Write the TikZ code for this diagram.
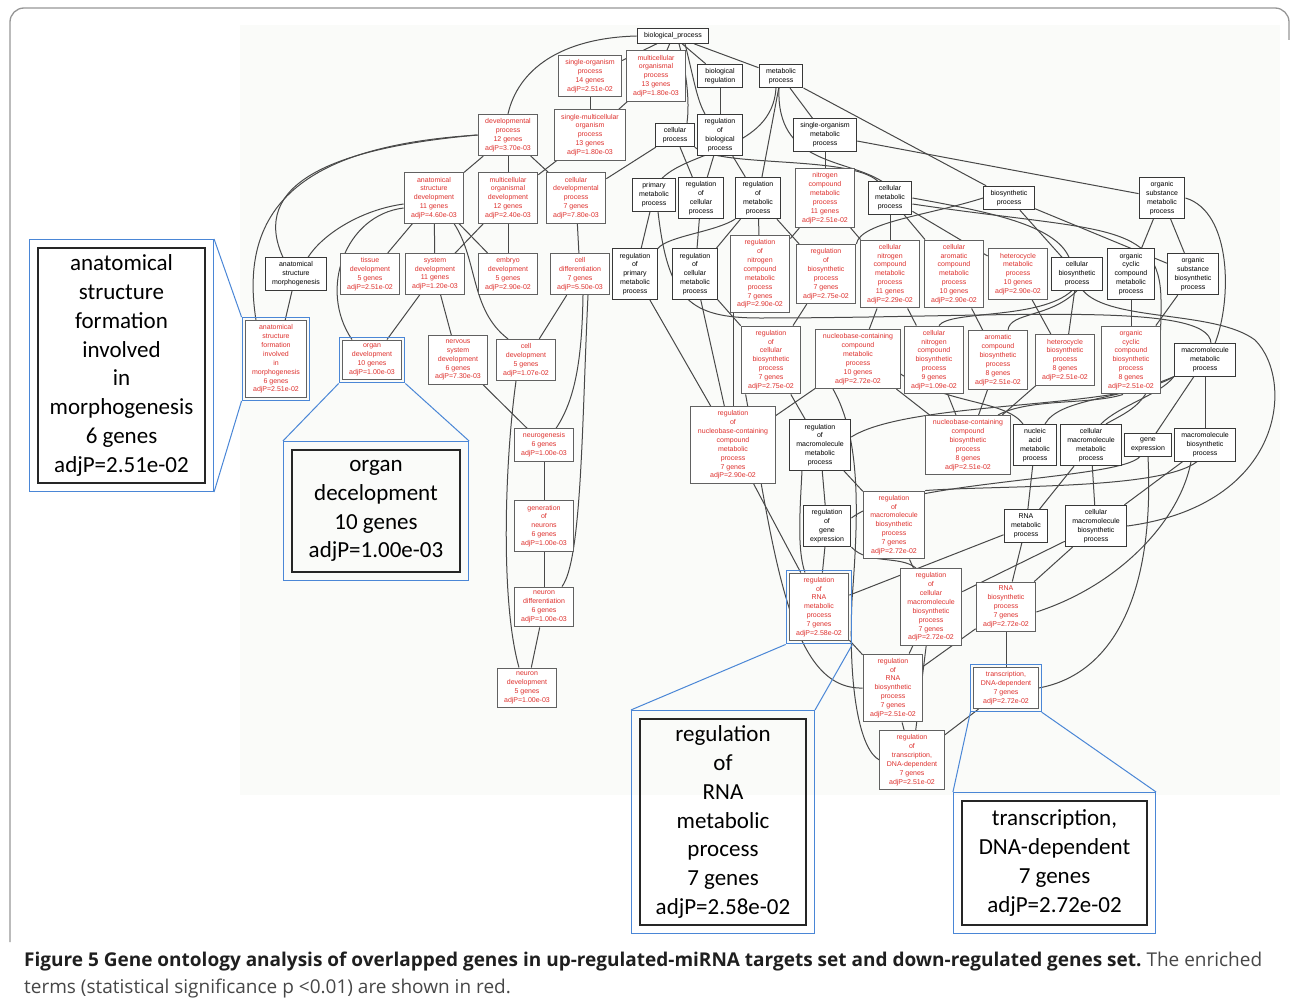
\documentclass[tikz,border=0pt]{standalone}
\usepackage{fontspec}
\setmainfont{Carlito}
\newfontfamily\gofont{Liberation Sans}
\newfontfamily\capfont{Open Sans}
\usetikzlibrary{fit,backgrounds}

\definecolor{goRed}{RGB}{222,48,45}
\definecolor{hlBlue}{RGB}{74,134,214}
\definecolor{edgeGray}{RGB}{72,72,72}
\definecolor{frameGray}{RGB}{150,150,150}
\definecolor{plotTone}{RGB}{250,251,249}

\tikzset{
  term/.style={draw=black!78, line width=1pt, fill=white, align=center,
    inner xsep=7pt, inner ysep=4pt, font=\gofont\fontsize{7}{8.9}\selectfont},
  hit/.style={term, text=goRed, draw=black!62},
  link/.style={draw=edgeGray, line width=1pt},
  hl/.style={draw=hlBlue, line width=1pt, inner sep=2.5pt},
  callout/.style={draw=black!85, line width=1.1pt, align=center, inner sep=0pt,
    font=\fontsize{23}{28.8}\selectfont},
}

\begin{document}
\begin{tikzpicture}[x=1pt,y=-1pt]
  \useasboundingbox (0,0) rectangle (1290,1006);

  % terms, row by row
  \node[term] (bp) at (673,36) {biological\_process};

  \node[hit]  (sop)   at (590,76)  {single-organism\\process\\14 genes\\adjP=2.51e-02};
  \node[hit]  (mop)   at (656,76)  {multicellular\\organismal\\process\\13 genes\\adjP=1.80e-03};
  \node[term] (breg)  at (720,76)  {biological\\regulation};
  \node[term] (metab) at (781,76)  {metabolic\\process};

  \node[hit]  (devp)  at (508,135) {developmental\\process\\12 genes\\adjP=3.70e-03};
  \node[hit]  (smop)  at (590,135) {single-multicellular\\organism\\process\\13 genes\\adjP=1.80e-03};
  \node[term] (cellp) at (675,135) {cellular\\process};
  \node[term] (rbp)   at (720,135) {regulation\\of\\biological\\process};
  \node[term] (smet)  at (825,135) {single-organism\\metabolic\\process};

  \node[hit]  (asd)   at (434,198) {anatomical\\structure\\development\\11 genes\\adjP=4.60e-03};
  \node[hit]  (mod)   at (508,198) {multicellular\\organismal\\development\\12 genes\\adjP=2.40e-03};
  \node[hit]  (cdp)   at (576,198) {cellular\\developmental\\process\\7 genes\\adjP=7.80e-03};
  \node[term] (pmet)  at (654,195) {primary\\metabolic\\process};
  \node[term] (rcp)   at (701,198) {regulation\\of\\cellular\\process};
  \node[term] (rmp)   at (758,198) {regulation\\of\\metabolic\\process};
  \node[hit]  (ncmet) at (825,198) {nitrogen\\compound\\metabolic\\process\\11 genes\\adjP=2.51e-02};
  \node[term] (cmet)  at (890,198) {cellular\\metabolic\\process};
  \node[term] (bsyn)  at (1009,198) {biosynthetic\\process};
  \node[term] (osmet) at (1162,198) {organic\\substance\\metabolic\\process};

  \node[term] (asm)    at (296,274)  {anatomical\\structure\\morphogenesis};
  \node[hit]  (tdev)   at (370,274)  {tissue\\development\\5 genes\\adjP=2.51e-02};
  \node[hit]  (sdev)   at (435,274)  {system\\development\\11 genes\\adjP=1.20e-03};
  \node[hit]  (edev)   at (508,274)  {embryo\\development\\5 genes\\adjP=2.90e-02};
  \node[hit]  (cdiff)  at (580,274)  {cell\\differentiation\\7 genes\\adjP=5.50e-03};
  \node[term] (rpmet)  at (635,274)  {regulation\\of\\primary\\metabolic\\process};
  \node[term] (rcmet)  at (695,274)  {regulation\\of\\cellular\\metabolic\\process};
  \node[hit]  (rncmet) at (760,274)  {regulation\\of\\nitrogen\\compound\\metabolic\\process\\7 genes\\adjP=2.90e-02};
  \node[hit]  (rbio)   at (826,274)  {regulation\\of\\biosynthetic\\process\\7 genes\\adjP=2.75e-02};
  \node[hit]  (cnmet)  at (890,274)  {cellular\\nitrogen\\compound\\metabolic\\process\\11 genes\\adjP=2.29e-02};
  \node[hit]  (camet)  at (954,274)  {cellular\\aromatic\\compound\\metabolic\\process\\10 genes\\adjP=2.90e-02};
  \node[hit]  (hmet)   at (1018,274) {heterocycle\\metabolic\\process\\10 genes\\adjP=2.90e-02};
  \node[term] (cbio)   at (1077,274) {cellular\\biosynthetic\\process};
  \node[term] (ocmet)  at (1131,274) {organic\\cyclic\\compound\\metabolic\\process};
  \node[term] (osbio)  at (1193,274) {organic\\substance\\biosynthetic\\process};

  \node[hit]  (asf)    at (276,359)  {anatomical\\structure\\formation\\involved\\in\\morphogenesis\\6 genes\\adjP=2.51e-02};
  \node[hit]  (odev)   at (372,360)  {organ\\development\\10 genes\\adjP=1.00e-03};
  \node[hit]  (nsdev)  at (458,360)  {nervous\\system\\development\\6 genes\\adjP=7.30e-03};
  \node[hit]  (cdev)   at (526,360)  {cell\\development\\5 genes\\adjP=1.07e-02};
  \node[hit]  (rcbio)  at (771,360)  {regulation\\of\\cellular\\biosynthetic\\process\\7 genes\\adjP=2.75e-02};
  \node[hit]  (nucmet) at (858,359)  {nucleobase-containing\\compound\\metabolic\\process\\10 genes\\adjP=2.72e-02};
  \node[hit]  (cnbio)  at (934,360)  {cellular\\nitrogen\\compound\\biosynthetic\\process\\9 genes\\adjP=1.09e-02};
  \node[hit]  (acbio)  at (998,360)  {aromatic\\compound\\biosynthetic\\process\\8 genes\\adjP=2.51e-02};
  \node[hit]  (hbio)   at (1065,360) {heterocycle\\biosynthetic\\process\\8 genes\\adjP=2.51e-02};
  \node[hit]  (ocbio)  at (1131,360) {organic\\cyclic\\compound\\biosynthetic\\process\\8 genes\\adjP=2.51e-02};
  \node[term] (mmet)   at (1205,360) {macromolecule\\metabolic\\process};

  \node[hit]  (ngen)    at (544,445)  {neurogenesis\\6 genes\\adjP=1.00e-03};
  \node[hit]  (rnucmet) at (733,445)  {regulation\\of\\nucleobase-containing\\compound\\metabolic\\process\\7 genes\\adjP=2.90e-02};
  \node[term] (rmmet)   at (820,445)  {regulation\\of\\macromolecule\\metabolic\\process};
  \node[hit]  (nucbio)  at (968,445)  {nucleobase-containing\\compound\\biosynthetic\\process\\8 genes\\adjP=2.51e-02};
  \node[term] (namet)   at (1035,445) {nucleic\\acid\\metabolic\\process};
  \node[term] (cmmet)   at (1091,445) {cellular\\macromolecule\\metabolic\\process};
  \node[term] (gexp)    at (1148,445) {gene\\expression};
  \node[term] (mbio)    at (1205,445) {macromolecule\\biosynthetic\\process};

  \node[hit]  (genn)   at (544,526)  {generation\\of\\neurons\\6 genes\\adjP=1.00e-03};
  \node[term] (rgexp)  at (827,526)  {regulation\\of\\gene\\expression};
  \node[hit]  (rmbio)  at (894,525)  {regulation\\of\\macromolecule\\biosynthetic\\process\\7 genes\\adjP=2.72e-02};
  \node[term] (rnamet) at (1026,526) {RNA\\metabolic\\process};
  \node[term] (cmbio)  at (1096,526) {cellular\\macromolecule\\biosynthetic\\process};

  \node[hit]  (ndiff)   at (544,607)  {neuron\\differentiation\\6 genes\\adjP=1.00e-03};
  \node[hit]  (rrnamet) at (819,607)  {regulation\\of\\RNA\\metabolic\\process\\7 genes\\adjP=2.58e-02};
  \node[hit]  (rcmbio)  at (931,607)  {regulation\\of\\cellular\\macromolecule\\biosynthetic\\process\\7 genes\\adjP=2.72e-02};
  \node[hit]  (rnabio)  at (1006,607) {RNA\\biosynthetic\\process\\7 genes\\adjP=2.72e-02};

  \node[hit]  (ndev)    at (527,688)  {neuron\\development\\5 genes\\adjP=1.00e-03};
  \node[hit]  (rrnabio) at (893,688)  {regulation\\of\\RNA\\biosynthetic\\process\\7 genes\\adjP=2.51e-02};
  \node[hit]  (trans)   at (1006,688) {transcription,\\DNA-dependent\\7 genes\\adjP=2.72e-02};

  \node[hit]  (rtrans)  at (912,760)  {regulation\\of\\transcription,\\DNA-dependent\\7 genes\\adjP=2.51e-02};

  \begin{scope}[on background layer]
    \fill[plotTone] (240,25) rectangle (1280,795);
    \foreach \a/\b in {bp/sop, bp/mop, bp/breg, bp/metab, sop/smop, mop/smop,
        devp/asd, devp/mod, devp/cdp, smop/mod, cellp/cdp, cellp/rcp, breg/rbp,
        rbp/rcp, rbp/rmp, metab/smet, metab/bsyn, metab/rmp, smet/ncmet, smet/osmet,
        asd/tdev, asd/sdev, asd/edev, mod/sdev, mod/edev, cdp/cdiff, pmet/rpmet,
        rcp/rcmet, rmp/rcmet, rmp/rncmet, rmp/rbio, ncmet/rncmet, ncmet/cnmet,
        cmet/cnmet, cmet/camet, cmet/hmet, bsyn/cbio, bsyn/osbio, osmet/ocmet,
        osmet/osbio, asm/asf, sdev/odev, sdev/nsdev, cdiff/cdev, nsdev/ngen,
        ngen/genn, genn/ndiff, ndiff/ndev, rpmet/rnucmet, rcmet/rnucmet,
        rcmet/rcbio, rbio/rcbio, cnmet/nucmet, cnmet/cnbio, camet/acbio,
        hmet/hbio, cbio/hbio, ocmet/ocbio, osbio/ocbio, nucmet/nucbio,
        cnbio/nucbio, acbio/nucbio, hbio/nucbio, nucmet/rnucmet, mmet/gexp,
        mmet/mbio, mbio/cmbio, cmmet/cmbio, namet/rnamet, cmmet/rnamet,
        cmbio/rnabio, cmbio/rcmbio, rnamet/rnabio, rnamet/rrnamet, rmmet/rgexp,
        rmmet/rmbio, rcbio/rmmet, rnucmet/rrnamet, rgexp/rrnamet, rmbio/rcmbio,
        rrnamet/rrnabio, rcmbio/rrnabio, rnabio/rrnabio, rnabio/trans,
        rrnabio/rtrans, rcmbio/rtrans, trans/rtrans}
      \draw[link] (\a) -- (\b);

    \draw[link] (bp.west) .. controls (560,38) and (518,70) .. (devp.north);
    \draw[link] ([xshift=6pt]bp.south) .. controls (686,70) and (690,100) .. ([xshift=12pt]cellp.north);
    \draw[link] ([xshift=12pt]bp.south) .. controls (694,80) and (697,100) .. ([xshift=-15pt]rbp.north);
    \draw[link] (devp.west) .. controls (330,148) and (250,185) .. ([xshift=-13pt]asm.north);
    \draw[link] (devp.west) .. controls (320,145) and (236,195) .. ([xshift=-20pt]asf.north);
    \draw[link] ([yshift=-6pt]asd.west) .. controls (360,210) and (322,235) .. ([xshift=12pt]asm.north);
    \draw[link] ([yshift=-10pt]asd.west) .. controls (345,215) and (318,290) .. ([xshift=-20pt]odev.north);
    \draw[link] ([xshift=20pt]asd.south) .. controls (478,260) and (470,310) .. ([xshift=-18pt]cdev.north);
    \draw[link] (cellp.south east) .. controls (720,168) and (850,155) .. ([xshift=-12pt]cmet.north);
    \draw[link] ([xshift=-5pt]metab.south) .. controls (772,150) and (690,150) .. ([xshift=8pt]pmet.north);
    \draw[link] ([xshift=-2pt]metab.south) .. controls (776,165) and (845,158) .. ([xshift=-8pt]cmet.north);
    \draw[link] ([xshift=4pt]pmet.south) .. controls (668,300) and (690,318) .. (760,318)
      .. controls (1000,318) and (1210,300) .. ([xshift=6pt]mmet.north);
    \draw[link] (rmp.south west) .. controls (715,232) and (668,236) .. (rpmet.north east);
    \draw[link] (cmet.east) .. controls (990,212) and (1055,225) .. ([xshift=-8pt]cbio.north);
    \draw[link] ([yshift=-6pt]cmet.east) .. controls (1100,232) and (1160,220) .. (1161,300)
      .. controls (1162,400) and (1140,405) .. ([xshift=15pt]cmmet.north);
    \draw[link] (bsyn.west) .. controls (930,215) and (860,222) .. (rbio.north east);
    \draw[link] (osmet.east) .. controls (1232,212) and (1232,300) .. ([xshift=10pt]mmet.north);
    \draw[link] ([xshift=-27pt]rncmet.south) -- (rnucmet.north);
    \draw[link] ([xshift=3pt]cdiff.south) .. controls (582,360) and (575,400) .. ([xshift=12pt]ngen.north);
    \draw[link] ([xshift=8pt]cdiff.south) .. controls (582,420) and (582,560) .. ([xshift=18pt]ndiff.north);
    \draw[link] ([xshift=-10pt]cdev.south) .. controls (505,460) and (500,600) .. ([xshift=-8pt]ndev.north);
    \draw[link] ([xshift=5pt]rcbio.south west) .. controls (775,560) and (790,690) .. (rrnabio.west);
    \draw[link] ([xshift=-5pt]cbio.south) .. controls (1040,320) and (950,310) .. ([xshift=5pt]cnbio.north);
    \draw[link] (cbio.south) .. controls (1050,318) and (1010,312) .. ([xshift=10pt]acbio.north);
    \draw[link] ([xshift=6pt]cbio.south) .. controls (1110,322) and (1215,310) .. (1255,340)
      .. controls (1295,380) and (1285,505) .. (cmbio.east);
    \draw[link] ([yshift=-15pt]nucmet.east) .. controls (950,405) and (1005,400) .. ([xshift=-12pt]namet.north);
    \draw[link] ([xshift=-8pt]ocbio.south) .. controls (1090,405) and (1030,398) .. ([xshift=30pt]nucbio.north);
    \draw[link] ([yshift=8pt]rmmet.east) .. controls (910,400) and (1120,410) .. (mmet.south west);
    \draw[link] (mmet.south west) .. controls (1120,400) and (1060,398) .. ([xshift=10pt]namet.north);
    \draw[link] (mmet.south west) .. controls (1160,395) and (1120,405) .. ([xshift=10pt]cmmet.north);
    \draw[link] ([xshift=-8pt]mbio.south) .. controls (1160,490) and (1000,485) .. (rmbio.north east);
    \draw[link] ([xshift=-8pt]gexp.south) .. controls (1120,480) and (900,480) .. ([yshift=8pt]rgexp.east);
    \draw[link] (gexp.south) .. controls (1155,600) and (1110,675) .. (trans.east);
    \draw[link] ([xshift=-14pt]mbio.south) .. controls (1180,520) and (1120,585) .. ([yshift=-5pt]rnabio.east);
    \draw[link] ([xshift=-25pt]nucmet.south) .. controls (862,440) and (858,520) .. (852,600)
      .. controls (848,690) and (860,750) .. (rtrans.west);
    \draw[link] ([xshift=-18pt]rmmet.south) .. controls (800,510) and (797,550) .. ([xshift=-14pt]rrnamet.north);
    \draw[link] (rgexp.south east) .. controls (868,565) and (900,555) .. ([xshift=-15pt]rcmbio.north);
  \end{scope}

  % highlighted terms and their call-outs
  \node[hl, fit=(asf)] (asfH) {};
  \node[hl, fit=(odev)] (odevH) {};
  \node[hl, fit=(rrnamet)] (rrnametH) {};
  \node[hl, fit=(trans)] (transH) {};

  \node[callout, minimum width=167pt, minimum height=235pt] (asfC) at (121.5,365.5)
    {anatomical\\structure\\formation\\involved\\in\\morphogenesis\\6 genes\\adjP=2.51e-02};
  \node[callout, minimum width=168pt, minimum height=122pt] (odevC) at (376,511)
    {organ\\decelopment\\10 genes\\adjP=1.00e-03};
  \node[callout, minimum width=166pt, minimum height=206pt] (rrnametC) at (723,822)
    {regulation\\of\\RNA\\metabolic\\process\\7 genes\\adjP=2.58e-02};
  \node[callout, minimum width=185pt, minimum height=124pt] (transC) at (1054.5,863)
    {transcription,\\DNA-dependent\\7 genes\\adjP=2.72e-02};

  \node[hl, fit=(asfC), inner sep=8pt] (asfB) {};
  \node[hl, fit=(odevC), inner sep=8pt] (odevB) {};
  \node[hl, fit=(rrnametC), inner sep=8pt] (rrnametB) {};
  \node[hl, fit=(transC), inner sep=8pt] (transB) {};

  \draw[hlBlue, line width=1pt] (asfB.north east) -- (asfH.north west);
  \draw[hlBlue, line width=1pt] (asfB.south east) -- (asfH.south west);
  \draw[hlBlue, line width=1pt] (odevB.north west) -- (odevH.south west);
  \draw[hlBlue, line width=1pt] (odevB.north east) -- (odevH.south east);
  \draw[hlBlue, line width=1pt] (rrnametB.north west) -- (rrnametH.south west);
  \draw[hlBlue, line width=1pt] (rrnametB.north east) -- (rrnametH.south east);
  \draw[hlBlue, line width=1pt] (transB.north west) -- (transH.south west);
  \draw[hlBlue, line width=1pt] (transB.north east) -- (transH.south east);

  % frame and caption
  \draw[frameGray, line width=1.3pt, rounded corners=14pt]
    (10,942) -- (10,8) -- (1289,8) -- (1289,40);
  \node[anchor=base west, inner sep=0pt, font=\capfont\fontsize{19}{27}\selectfont] (capA) at (24,966)
    {\textbf{\color{black!88}Figure 5 Gene ontology analysis of overlapped genes in up-regulated-miRNA targets set and down-regulated genes set.}\ {\color{black!72}The enriched}};
  \node[anchor=base west, inner sep=0pt, font=\capfont\fontsize{19}{27}\selectfont, text=black!72] (capB) at (24,993)
    {terms (statistical significance p <0.01) are shown in red.};
\end{tikzpicture}
\end{document}
